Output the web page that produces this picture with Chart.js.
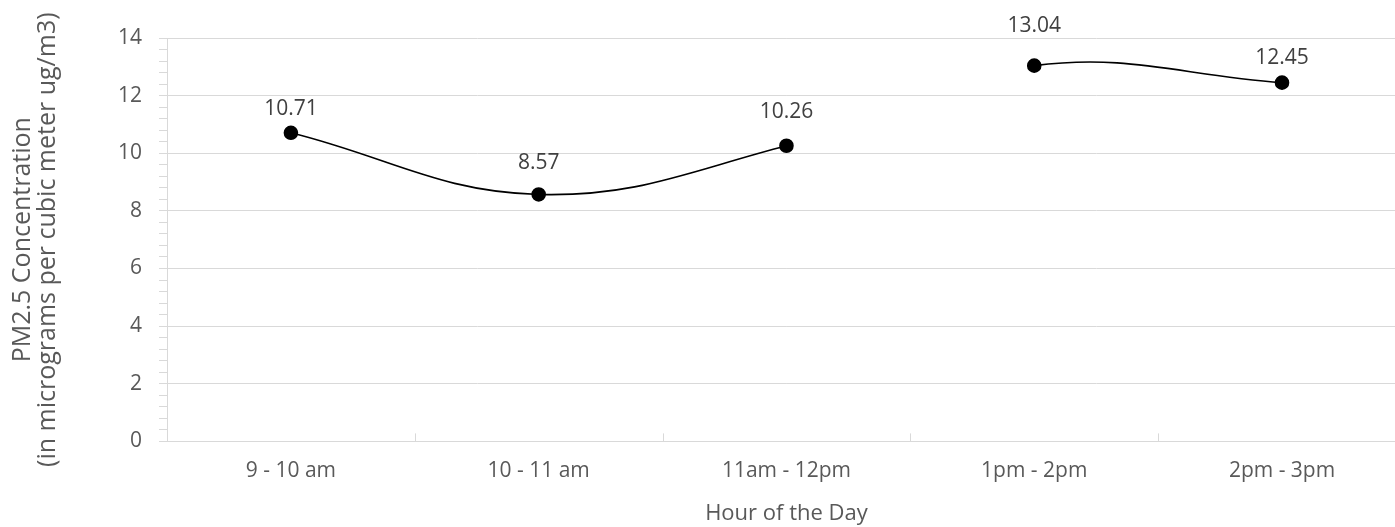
<!DOCTYPE html>
<html lang="en">
<head>
<meta charset="UTF-8">
<title>PM2.5 by hour</title>
<script src="https://cdn.jsdelivr.net/npm/chart.js"></script>
<style>
  body { margin: 0; background: #fff; overflow: hidden; }
  #wrap { width: 1414px; height: 527px; }
</style>
</head>
<body>
<div id="wrap"><canvas id="myChart"></canvas></div>
<script>
const hours = ['9 - 10 am', '10 - 11 am', '11am - 12pm', '1pm - 2pm', '2pm - 3pm'];
const pm25 = [10.71, 8.57, 10.26, 13.04, 12.45];
const yLabels = [0, 2, 4, 6, 8, 10, 12, 14];
const breakAfter = '11am - 12pm'; // line is not drawn over the lunch hour

const grey = '#d9d9d9';
const textCol = '#595959';
const font = '"Open Sans", "Noto Sans", sans-serif';
// px between point and label baseline (labels were nudged by hand in the original)
const labelLift = [18, 25, 28, 34, 19];

// value labels above each point
const pointLabels = {
  id: 'pointLabels',
  afterDatasetsDraw(chart) {
    const ctx = chart.ctx;
    const meta = chart.getDatasetMeta(0);
    ctx.save();
    ctx.font = '21px ' + font;
    ctx.fillStyle = '#404040';
    ctx.textAlign = 'center';
    ctx.textBaseline = 'alphabetic';
    meta.data.forEach((pt, i) => {
      ctx.fillText(pm25[i].toFixed(2), pt.x, pt.y - labelLift[i]);
    });
    ctx.restore();
  }
};

// small upward ticks between categories, like excel
const catTicks = {
  id: 'catTicks',
  afterDraw(chart) {
    const x = chart.scales.x;
    const y0 = chart.chartArea.bottom;
    const ctx = chart.ctx;
    ctx.save();
    ctx.strokeStyle = grey;
    ctx.lineWidth = 1;
    for (let i = 1; i < hours.length; i++) {
      const px = Math.round((x.getPixelForValue(i - 1) + x.getPixelForValue(i)) / 2) + 0.5;
      ctx.beginPath();
      ctx.moveTo(px, y0);
      ctx.lineTo(px, y0 - 8);
      ctx.stroke();
    }
    ctx.restore();
  }
};

const isMajor = v => yLabels.some(t => Math.abs(t - v) < 1e-6);

new Chart(document.getElementById('myChart'), {
  type: 'line',
  data: {
    labels: hours,
    datasets: [{
      data: pm25,
      borderColor: '#000',
      borderWidth: 1.6,
      backgroundColor: '#000',
      pointRadius: 6.5,
      pointHoverRadius: 6.5,
      tension: 0.4,
      segment: {
        borderColor: c => hours[c.p0DataIndex] === breakAfter ? 'rgba(0,0,0,0)' : '#000'
      }
    }]
  },
  options: {
    responsive: true,
    maintainAspectRatio: false,
    animation: false,
    layout: { padding: { top: 38, left: 10, right: 0, bottom: 0 } },
    plugins: {
      legend: { display: false },
      tooltip: { enabled: false }
    },
    scales: {
      x: {
        offset: true,
        grid: { display: false, drawTicks: false },
        border: { display: true, color: grey },
        ticks: { color: textCol, font: { family: font, size: 21 }, padding: 17 },
        title: {
          display: true,
          text: 'Hour of the Day',
          color: textCol,
          font: { family: font, size: 22 },
          padding: { top: 0, bottom: 0 }
        }
      },
      y: {
        min: 0,
        max: 14,
        border: { display: true, color: grey },
        grid: {
          color: c => isMajor(c.tick.value) ? grey : 'rgba(0,0,0,0)',
          tickColor: grey,
          tickLength: 8
        },
        ticks: {
          stepSize: 0.4,
          autoSkip: false,
          color: textCol,
          font: { family: font, size: 21 },
          padding: 17,
          callback: v => isMajor(v) ? Math.round(v) : ''
        },
        title: {
          display: true,
          text: ['PM2.5 Concentration', '(in micrograms per cubic meter ug/m3)'],
          color: textCol,
          font: { family: font, size: 25, lineHeight: 1.0 },
          padding: { top: 0, bottom: 41 }
        }
      }
    }
  },
  plugins: [pointLabels, catTicks]
});
</script>
</body>
</html>
